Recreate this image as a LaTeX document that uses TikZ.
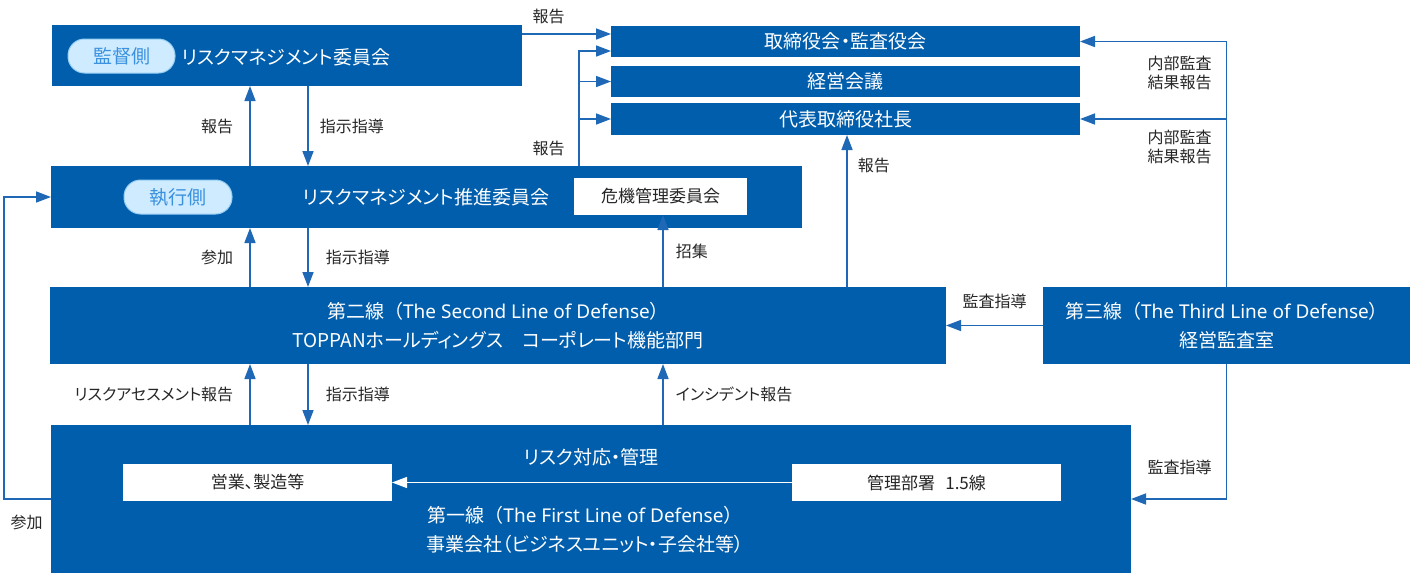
\documentclass[tikz,border=0pt]{standalone}
\usepackage{fontspec}
\setmainfont{Noto Sans CJK JP}[RawFeature=+palt]
\newfontfamily\fullwidth{Noto Sans CJK JP}
\newfontfamily\latinface{Noto Sans}
\usetikzlibrary{arrows.meta}
\definecolor{tpblue}{RGB}{0,94,172}
\definecolor{arrowblue}{RGB}{30,104,182}
\definecolor{pillfill}{RGB}{206,235,255}
\definecolor{pilldraw}{RGB}{150,205,242}
\definecolor{pilltext}{RGB}{58,145,222}
\definecolor{lbltext}{RGB}{38,38,38}
\begin{document}
\begin{tikzpicture}[x=1pt,y=-1pt,
    bluebox/.style={fill=tpblue, text=white, inner sep=0pt, outer sep=0pt, align=center, font=\fontsize{19}{29}\selectfont},
    boxtext/.style={text=white, inner sep=0pt, align=center, font=\fontsize{19}{29}\selectfont},
    whitebox/.style={fill=white, text=lbltext, inner sep=0pt, outer sep=0pt, font=\fontsize{17}{20}\selectfont},
    pill/.style={rounded corners=16.5pt, fill=pillfill, draw=pilldraw, line width=1pt, text=pilltext, inner sep=0pt, font=\fontsize{19}{22}\selectfont},
    lbl/.style={text=lbltext, inner sep=0pt, align=center, font=\fontsize{16}{19}\selectfont},
    flow/.style={draw=arrowblue, line width=1.6pt, -{Triangle[length=15pt,width=11pt]}},
    whiteflow/.style={draw=white, line width=1.2pt, -{Triangle[length=15pt,width=11pt]}}]
    \useasboundingbox (0,0) rectangle (1412,573);
    \node[bluebox, minimum width=470pt, minimum height=61pt] (rmc) at (287,55.5) {};
    \node[pill, minimum width=107pt, minimum height=34pt] (sup) at (121.5,56) {監督側};
    \node[boxtext] (rmctxt) at (286,57) {リスクマネジメント委員会};
    \node[bluebox, minimum width=751pt, minimum height=62pt] (rmp) at (426.5,197) {};
    \node[pill, minimum width=108pt, minimum height=34pt] (exe) at (178,197) {執行側};
    \node[boxtext] (rmptxt) at (426,197) {リスクマネジメント推進委員会};
    \node[whitebox, minimum width=173pt, minimum height=37pt] (crisis) at (660.5,196.5) {危機管理委員会};
    \node[bluebox, minimum width=469pt, minimum height=31pt] (board) at (845.5,41.5) {取締役会・監査役会};
    \node[bluebox, minimum width=469pt, minimum height=31pt] (mgmt) at (845.5,81.5) {経営会議};
    \node[bluebox, minimum width=469pt, minimum height=32pt] (ceo) at (845.5,119) {代表取締役社長};
    \node[bluebox, minimum width=896pt, minimum height=77pt] (l2) at (498,325.5) {{\fullwidth 第二線（{\latinface The Second Line of Defense}）}\\TOPPANホールディングス　コーポレート機能部門};
    \node[bluebox, minimum width=367pt, minimum height=77pt] (l3) at (1226.5,325.5) {{\fullwidth 第三線（{\latinface The Third Line of Defense}）}\\経営監査室};
    \node[bluebox, minimum width=1080pt, minimum height=148pt] (l1) at (591,499) {};
    \node[boxtext] (l1a) at (591,457) {リスク対応・管理};
    \node[boxtext] (l1b) at (585,530) {{\fullwidth 第一線（{\latinface The First Line of Defense}）}\\事業会社（ビジネスユニット・子会社等）};
    \node[whitebox, minimum width=269pt, minimum height=37pt] (sales) at (257.5,482.5) {営業、製造等};
    \node[whitebox, minimum width=269pt, minimum height=37pt] (admin) at (926.5,482.5) {管理部署\hspace{0.6em}1.5線};
    \coordinate (xa) at (250,0);
    \coordinate (xb) at (308,0);
    \coordinate (xc) at (663,0);
    \coordinate (xd) at (847,0);
    \coordinate (rtop) at (579,51);
    \coordinate (rmcout) at ([yshift=-9pt]rmc.north east);
    \path (rmp.north -| xa) edge[flow] node[lbl, left=16pt] {報告} (rmc.south -| xa);
    \path (rmc.south -| xb) edge[flow] node[lbl, right=11pt] {指示指導} (rmp.north -| xb);
    \path (l2.north -| xa) edge[flow] node[lbl, left=16pt] {参加} (rmp.south -| xa);
    \path (rmp.south -| xb) edge[flow] node[lbl, right=17pt] {指示指導} (l2.north -| xb);
    \path (l2.north -| xc) edge[flow] node[lbl, right=12pt] {招集} (crisis.south -| xc);
    \path (l2.north -| xd) edge[flow] node[lbl, right=10pt, pos=0.8] {報告} (ceo.south -| xd);
    \path (l1.north -| xa) edge[flow] node[lbl, left=16pt] {リスクアセスメント報告} (l2.south -| xa);
    \path (l2.south -| xb) edge[flow] node[lbl, right=17pt] {指示指導} (l1.north -| xb);
    \path (l1.north -| xc) edge[flow] node[lbl, right=12pt] {インシデント報告} (l2.south -| xc);
    \path (l3.west) edge[flow] node[lbl, above=16pt] {監査指導} (l2.east);
    \draw[flow] (rmcout) -- (rmcout -| board.west);
    \node[lbl] (rep1) at (548.5,16) {報告};
    \draw[flow] (rmp.north -| rtop) -- (rtop) -- (rtop -| board.west);
    \draw[flow] (rtop |- mgmt) -- (mgmt.west);
    \draw[flow] (rtop |- ceo) -- (ceo.west);
    \node[lbl] (rep2) at (548.5,148) {報告};
    \draw[flow] (l3.north) |- (board.east);
    \draw[flow] (l3.north |- ceo) -- (ceo.east);
    \node[lbl] (iar1) at (1179.5,72.5) {内部監査\\結果報告};
    \node[lbl] (iar2) at (1179.5,146.5) {内部監査\\結果報告};
    \draw[flow] (l3.south) |- (l1.east);
    \node[lbl] (aud2) at (1179.5,467) {監査指導};
    \draw[flow] (l1.west) -- ++(-47,0) |- (rmp.west);
    \node[lbl] (join) at (26.5,522) {参加};
    \draw[whiteflow] (admin.west) -- (sales.east);
\end{tikzpicture}
\end{document}
